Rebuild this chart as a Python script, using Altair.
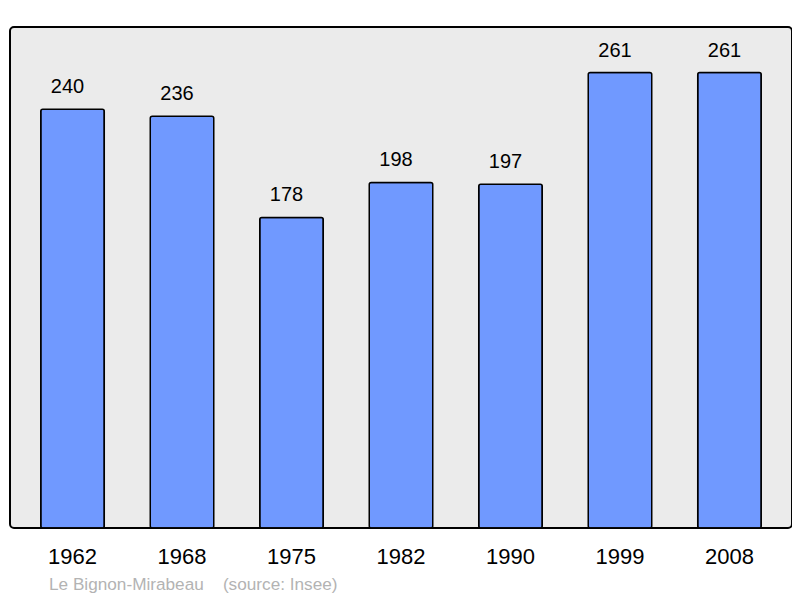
import altair as alt
import pandas as pd

years = ["1962", "1968", "1975", "1982", "1990", "1999", "2008"]
population = [240, 236, 178, 198, 197, 261, 261]
source_text = "Le Bignon-Mirabeau\u00a0\u00a0\u00a0\u00a0(source: Insee)"

df = pd.DataFrame({"year": years, "pop": population})

x = alt.X("year:N", sort=years, title=None,
          scale=alt.Scale(paddingInner=0.42, paddingOuter=0.281),
          axis=alt.Axis(labelAngle=0, labelFontSize=22, labelColor="#000000",
                        labelFont="Liberation Sans", ticks=False, domain=False,
                        labelPadding=18, grid=False))
y = alt.Y("pop:Q", title=None, scale=alt.Scale(domain=[0, 287.1], nice=False),
          axis=None)

bars = alt.Chart(df).mark_bar(color="#7099ff", stroke="#000000", strokeWidth=1.5,
                              cornerRadius=2).encode(x=x, y=y)
labels = alt.Chart(df).mark_text(baseline="bottom", dy=-12, dx=-5, fontSize=20,
                                 font="Liberation Sans", color="#000000").encode(
    x=alt.X("year:N", sort=years), y="pop:Q", text="pop:Q")

chart = (bars + labels).properties(
    width=782, height=501,
    autosize=alt.AutoSizeParams(type="none"),
    padding={"left": 2, "top": 19, "right": 0, "bottom": 70},
    title=alt.TitleParams(source_text, orient="bottom", anchor="start",
                          fontSize=17.2, font="Liberation Sans", fontWeight="normal",
                          color="#b3b3b3", offset=9, dx=39),
).configure_view(
    fill="#ebebeb", stroke="#000000", strokeWidth=2, cornerRadius=4
)

chart.save("out.html", embed_options={"renderer": "svg", "actions": False})
